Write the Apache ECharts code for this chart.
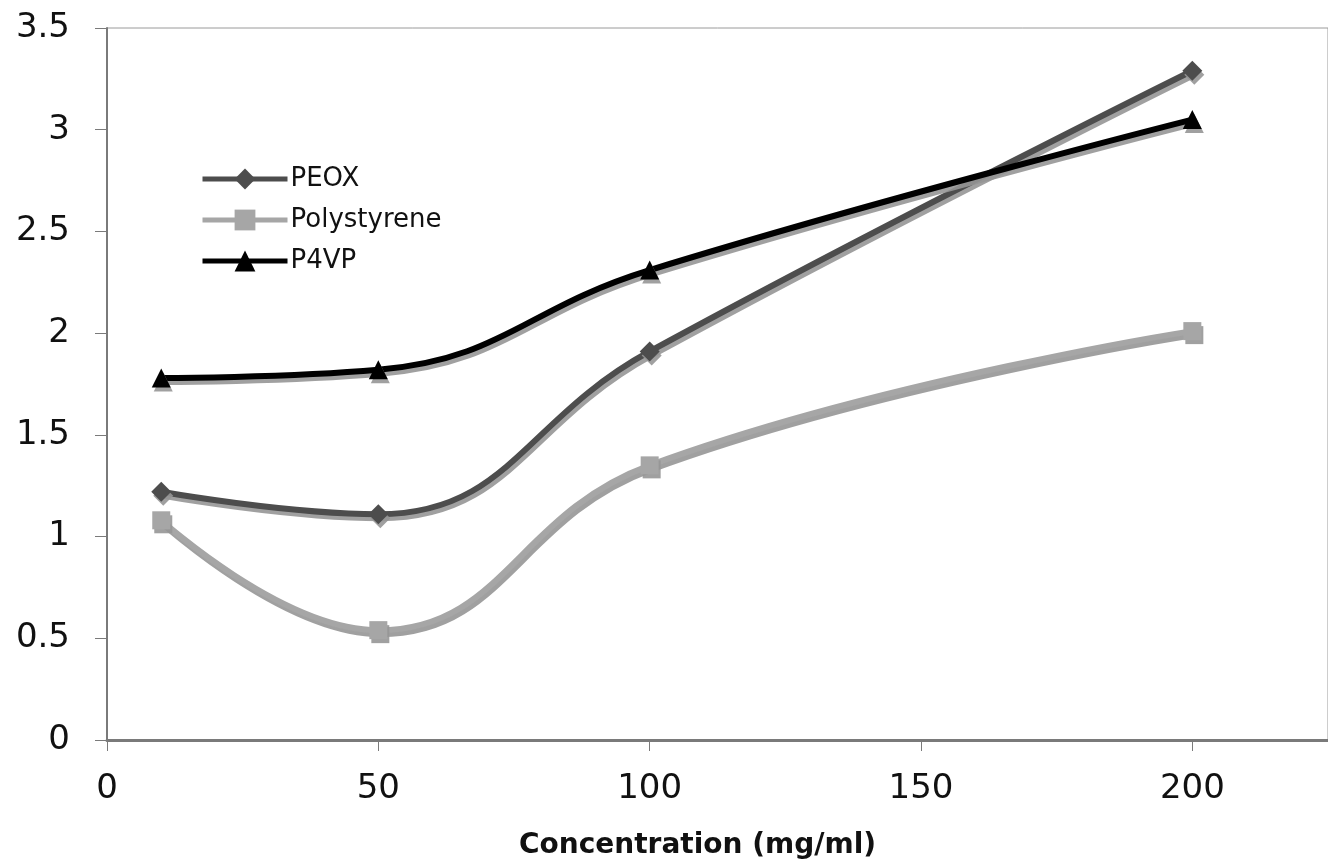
<!DOCTYPE html>
<html>
<head>
<meta charset="utf-8">
<script src="https://cdn.jsdelivr.net/npm/echarts@6/dist/echarts.min.js"></script>
<style>
  html, body { margin: 0; padding: 0; background: #fff; }
  #chart { width: 1328px; height: 865px; }
</style>
</head>
<body>
<div id="chart"></div>
<script>
// concentration (mg/ml)
const concentrations = [10, 50, 100, 200]
const peox = [1.22, 1.11, 1.91, 3.29]
const polystyrene = [1.08, 0.54, 1.35, 2.01]
const p4vp = [1.78, 1.82, 2.31, 3.05]

const seriesNames = ['PEOX', 'Polystyrene', 'P4VP']

const chart = echarts.init(document.getElementById('chart'))

const shadow = {
  shadowColor: 'rgba(150,150,150,0.9)',
  shadowBlur: 0,
  shadowOffsetX: 2,
  shadowOffsetY: 4
}

const makeSeries = (name, values, color, symbol, size) => ({
  name,
  type: 'line',
  smooth: 0.45,
  data: concentrations.map((c, i) => [c, values[i]]),
  symbol,
  symbolSize: size,
  lineStyle: { width: 6, color, ...shadow },
  itemStyle: { color, ...shadow },
  z: 3
})

const option = {
  animation: false,
  grid: {
    left: 107,
    top: 28,
    right: -4,
    bottom: 119,
    show: true,
    borderColor: '#9a9a9a',
    borderWidth: 1
  },
  legend: {
    orient: 'vertical',
    left: 195,
    top: 161,
    itemWidth: 85,
    itemHeight: 26,
    itemGap: 15,
    data: seriesNames,
    textStyle: { fontFamily: 'DejaVu Sans', fontSize: 26, color: '#111', padding: [0, 0, 0, -2] },
    lineStyle: { width: 5, shadowColor: 'transparent', shadowOffsetX: 0, shadowOffsetY: 0 },
    itemStyle: { shadowColor: 'transparent', shadowOffsetX: 0, shadowOffsetY: 0 }
  },
  xAxis: {
    type: 'value',
    min: 0,
    max: 225,
    interval: 50,
    name: 'Concentration (mg/ml)',
    nameLocation: 'middle',
    nameGap: 92,
    nameTextStyle: {
      fontFamily: 'DejaVu Sans',
      fontWeight: 'bold',
      fontSize: 28,
      color: '#111',
      padding: [0, 40, 0, 0]
    },
    axisLine: { onZero: false, lineStyle: { color: '#7a7a7a', width: 3 } },
    axisTick: { show: true, length: 11, lineStyle: { color: '#7a7a7a', width: 1 } },
    axisLabel: {
      showMaxLabel: false,
      margin: 32,
      fontFamily: 'DejaVu Sans',
      fontSize: 34,
      color: '#111'
    },
    splitLine: { show: false }
  },
  yAxis: {
    type: 'value',
    min: 0,
    max: 3.5,
    interval: 0.5,
    axisLine: { show: true, lineStyle: { color: '#7a7a7a', width: 2 } },
    axisTick: { show: true, length: 12, lineStyle: { color: '#7a7a7a', width: 1 } },
    axisLabel: {
      margin: 37,
      padding: [8, 0, 0, 0],
      fontFamily: 'DejaVu Sans',
      fontSize: 34,
      color: '#111'
    },
    splitLine: { show: false }
  },
  series: [
    makeSeries('PEOX', peox, '#4d4d4d', 'diamond', 20),
    makeSeries('Polystyrene', polystyrene, '#a6a6a6', 'rect', 18),
    makeSeries('P4VP', p4vp, '#000000', 'triangle', 19)
  ]
}

chart.setOption(option)
</script>
</body>
</html>
